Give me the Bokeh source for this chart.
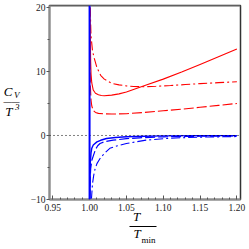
from bokeh.plotting import figure
from bokeh.models import Range1d, FixedTicker, Span, NumeralTickFormatter, LinearAxis
from bokeh.embed import file_html
from bokeh.resources import INLINE

# ---- data ----
red_solid_x = [1.0006, 1.001, 1.0015, 1.002, 1.003, 1.005, 1.008, 1.012, 1.016, 1.02,
               1.03, 1.04, 1.05, 1.075, 1.10, 1.125, 1.15, 1.175, 1.20]
red_solid_y = [20, 15, 11.5, 9.6, 8.2, 7.1, 6.6, 6.35, 6.25, 6.2,
               6.3, 6.5, 6.8, 7.8, 8.8, 9.9, 11.1, 12.3, 13.5]

red_dashdot_x = [1.0008, 1.002, 1.004, 1.0065, 1.01, 1.015, 1.02, 1.03, 1.04, 1.05,
                 1.06, 1.075, 1.09, 1.11, 1.13, 1.15, 1.175, 1.20]
red_dashdot_y = [20, 15.5, 13.2, 12.0, 10.6, 9.4, 8.8, 8.15, 7.9, 7.75,
                 7.65, 7.62, 7.68, 7.8, 7.95, 8.1, 8.25, 8.4]

red_dash_x = [1.0003, 1.0006, 1.001, 1.002, 1.003, 1.005, 1.008, 1.012, 1.02, 1.03,
              1.05, 1.075, 1.10, 1.125, 1.15, 1.175, 1.20]
red_dash_y = [20, 12, 8, 5.5, 4.6, 3.9, 3.6, 3.45, 3.38, 3.35,
              3.4, 3.6, 3.85, 4.1, 4.4, 4.7, 5.0]

blue_solid_x = [1.0003, 1.0006, 1.001, 1.002, 1.003, 1.005, 1.01, 1.015, 1.023, 1.035,
                1.05, 1.075, 1.10, 1.15, 1.20]
blue_solid_y = [-10, -6.5, -4.2, -2.7, -2.0, -1.5, -1.0, -0.75, -0.47, -0.32,
                -0.2, -0.11, -0.06, -0.03, -0.02]

blue_dash_x = [1.0003, 1.0008, 1.0015, 1.003, 1.0053, 1.008, 1.011, 1.0142, 1.02, 1.032,
               1.05, 1.0676, 1.10, 1.15, 1.20]
blue_dash_y = [-10, -7, -5.2, -3.9, -3.1, -2.2, -1.6, -1.25, -0.98, -0.73,
               -0.5, -0.36, -0.21, -0.12, -0.08]

blue_dashdot_x = [1.0025, 1.004, 1.0055, 1.0075, 1.01, 1.0142, 1.02, 1.0275, 1.038, 1.05,
                  1.0766, 1.103, 1.13, 1.16, 1.20]
blue_dashdot_y = [-10, -7.5, -6.3, -5.2, -4.4, -3.6, -2.8, -2.0, -1.6, -1.25,
                  -0.73, -0.47, -0.33, -0.24, -0.17]

x_major_ticks = [0.95, 1.00, 1.05, 1.10, 1.15, 1.20]
x_minor_ticks = [0.96, 0.97, 0.98, 0.99, 1.01, 1.02, 1.03, 1.04, 1.06, 1.07, 1.08, 1.09,
                 1.11, 1.12, 1.13, 1.14, 1.16, 1.17, 1.18, 1.19]
y_major_ticks = [-10, 0, 10, 20]
y_minor_ticks = [-5, 5, 15]

asymptote_x = 1.0
zero_level = 0.0

# ---- figure ----
X0, X1 = 0.9456, 1.2049
Y0, Y1 = -10.0, 20.3
FL, FR, FT, FB = 46.0, 240.0, 5.0, 199.0   # frame edges in page px

p = figure(width=249, height=249, x_range=Range1d(X0, X1), y_range=Range1d(Y0, Y1),
           output_backend="svg", toolbar_location=None, title=None,
           min_border_left=46, min_border_right=9, min_border_top=5, min_border_bottom=50)
p.grid.visible = False
p.outline_line_color = "#333333"
p.outline_line_width = 1.5
p.background_fill_color = "white"
p.border_fill_color = "white"

def px2x(px):
    return X0 + (px - FL) / (FR - FL) * (X1 - X0)

def py2y(py):
    return Y0 + (FB - py) / (FB - FT) * (Y1 - Y0)

serif = "Liberation Serif"
tick_col = "#222222"
axis_col = "#8c8c8c"

p.xaxis.ticker = FixedTicker(ticks=x_major_ticks, minor_ticks=x_minor_ticks)
p.xaxis.formatter = NumeralTickFormatter(format="0.00")
p.yaxis.ticker = FixedTicker(ticks=y_major_ticks, minor_ticks=y_minor_ticks)
for ax in (p.xaxis, p.yaxis):
    ax.axis_line_color = axis_col
    ax.axis_line_width = 2
    ax.major_tick_line_color = "#555555"
    ax.minor_tick_line_color = "#555555"
    ax.major_label_text_font = serif
    ax.major_label_text_font_size = "9.5px"
    ax.major_label_text_color = tick_col
p.xaxis.major_tick_in = 4
p.xaxis.major_tick_out = 0
p.xaxis.minor_tick_in = 2
p.xaxis.minor_tick_out = 0
p.xaxis.major_label_standoff = 4
p.yaxis.major_tick_in = 0
p.yaxis.major_tick_out = 3
p.yaxis.minor_tick_in = 0
p.yaxis.minor_tick_out = 2
p.yaxis.major_label_standoff = 1

p.add_layout(Span(location=Y1, dimension="width", line_color=axis_col, line_width=2))
p.add_layout(Span(location=zero_level, dimension="width", line_color="black",
                  line_width=1, line_dash="1 3"))
p.add_layout(Span(location=asymptote_x, dimension="height", line_color="#0000FF", line_width=2))

RED, BLUE = "#FF0000", "#0000FF"
p.line(red_solid_x, red_solid_y, line_color=RED, line_width=1.1)
p.line(red_dashdot_x, red_dashdot_y, line_color=RED, line_width=1.1, line_dash="9 3 2 3")
p.line(red_dash_x, red_dash_y, line_color=RED, line_width=1.1, line_dash="10 3")
p.line(blue_solid_x, blue_solid_y, line_color=BLUE, line_width=1.4)
p.line(blue_dash_x, blue_dash_y, line_color=BLUE, line_width=1.2, line_dash="10 3")
p.line(blue_dashdot_x, blue_dashdot_y, line_color=BLUE, line_width=1.1, line_dash="9 3 2 3")

# ---- axis titles, built from extra label-only axes (text outside the frame) ----
def label_axis(side, ticks, texts, size, style, standoff, font=serif, **kw):
    ax = LinearAxis(ticker=FixedTicker(ticks=ticks, minor_ticks=[]),
                    major_label_overrides={t: s for t, s in zip(ticks, texts)},
                    major_label_text_font=font, major_label_text_font_size=size,
                    major_label_text_font_style=style, major_label_text_color="black",
                    major_label_standoff=standoff,
                    major_tick_in=0, major_tick_out=0, minor_tick_in=0, minor_tick_out=0,
                    major_tick_line_color=None, minor_tick_line_color=None,
                    axis_line_color=None)
    for k, v in kw.items():
        setattr(ax, k, v)
    p.add_layout(ax, side)
    return ax

# y title:  C_V / T^3   (columns stacked outward from the y axis)
label_axis("left", [py2y(94.5), py2y(100.5), py2y(106.0)], ["V", "\u2014\u2014", "3"],
           "9px", "italic", 8)
label_axis("left", [py2y(90.5), py2y(111.0)], ["C", "T"], "13px", "italic", -12)

# x title:  T / T_min   (rows stacked downward from the x axis)
label_axis("below", [px2x(134.5)], ["T"], "13px", "italic", -5)
label_axis("below", [px2x(135.0)], ["T"], "13px", "italic", -1,
           axis_line_color="black", axis_line_width=1, bounds=(px2x(127.0), px2x(155.0)))
label_axis("below", [px2x(146.5)], ["min"], "9px", "normal", -9)

open("out.html", "w").write(file_html(p, INLINE))
